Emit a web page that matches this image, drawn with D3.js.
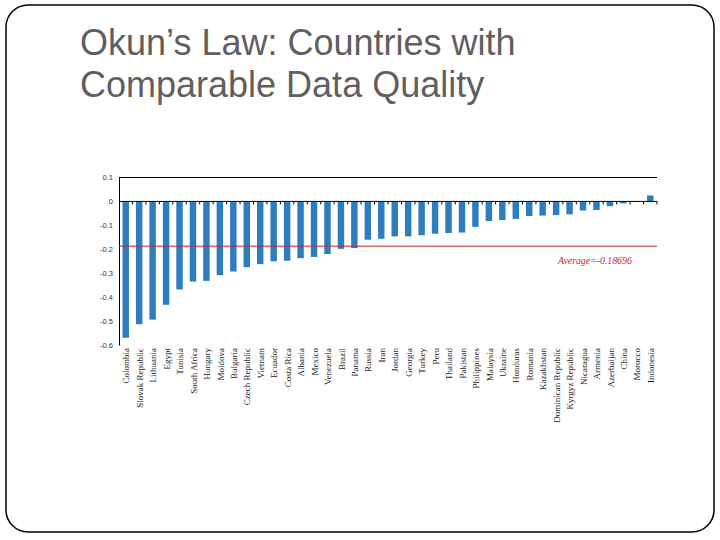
<!DOCTYPE html>
<html>
<head>
<meta charset="utf-8">
<script src="https://cdn.jsdelivr.net/npm/d3@7/dist/d3.min.js"></script>
<style>
  html, body { margin: 0; padding: 0; background: #fff; }
  svg { display: block; }
</style>
</head>
<body>
<svg id="chart" width="720" height="540"></svg>
<script>
const titleLines = ["Okun’s Law: Countries with", "Comparable Data Quality"];

const countries = [
  "Colombia", "Slovak Republic", "Lithuania", "Egypt", "Tunisia", "South Africa",
  "Hungary", "Moldova", "Bulgaria", "Czech Republic", "Vietnam", "Ecuador",
  "Costa Rica", "Albania", "Mexico", "Venezuela", "Brazil", "Panama", "Russia",
  "Iran", "Jordan", "Georgia", "Turkey", "Peru", "Thailand", "Pakistan",
  "Philippines", "Malaysia", "Ukraine", "Honduras", "Romania", "Kazakhstan",
  "Dominican Republic", "Kyrgyz Republic", "Nicaragua", "Armenia", "Azerbaijan",
  "China", "Morocco", "Indonesia"
];

const coefficients = [
  -0.570, -0.513, -0.494, -0.432, -0.368, -0.335,
  -0.332, -0.308, -0.293, -0.275, -0.262, -0.250,
  -0.248, -0.237, -0.232, -0.220, -0.198, -0.195, -0.160,
  -0.156, -0.146, -0.146, -0.141, -0.135, -0.132, -0.130,
  -0.106, -0.082, -0.078, -0.073, -0.061, -0.059,
  -0.057, -0.054, -0.038, -0.036, -0.020,
  -0.008, -0.002, 0.025
];

const yTicks = [0.1, 0, -0.1, -0.2, -0.3, -0.4, -0.5, -0.6];
const yTickLabels = ["0.1", "0", "-0.1", "-0.2", "-0.3", "-0.4", "-0.5", "-0.6"];

const averageValue = -0.18696;
const averageLabel = "Average=-0.18696";

const data = countries.map((c, i) => ({ country: c, value: coefficients[i] }));

const svg = d3.select("#chart");

// slide frame
svg.append("rect")
  .attr("x", 6).attr("y", 5)
  .attr("width", 708).attr("height", 527)
  .attr("rx", 22).attr("ry", 22)
  .attr("fill", "#fff")
  .attr("stroke", "#000")
  .attr("stroke-width", 1.5);

// title
svg.append("g").selectAll("text")
  .data(titleLines)
  .join("text")
  .attr("x", 80)
  .attr("y", (d, i) => 55 + i * 42)
  .attr("font-family", "Liberation Sans, Arial, sans-serif")
  .attr("font-size", 36)
  .attr("fill", "#5f5f5f")
  .text(d => d);

const plotLeft = 119, plotRight = 657, plotTop = 177.5, plotBottom = 345;

const x = d3.scaleBand()
  .domain(countries)
  .range([plotLeft, plotRight])
  .paddingInner(0.52)
  .paddingOuter(0.26);

const y = d3.scaleLinear()
  .domain([-0.6, 0.1])
  .range([plotBottom, plotTop]);

// bars
svg.append("g").selectAll("rect")
  .data(data)
  .join("rect")
  .attr("x", d => x(d.country))
  .attr("width", x.bandwidth())
  .attr("y", d => y(Math.max(0, d.value)))
  .attr("height", d => Math.abs(y(d.value) - y(0)))
  .attr("fill", "#2E7EBF");

// top border line at 0.1
svg.append("line")
  .attr("x1", plotLeft).attr("x2", plotRight)
  .attr("y1", y(0.1)).attr("y2", y(0.1))
  .attr("stroke", "#000").attr("stroke-width", 1);

// y axis
const yAxis = d3.axisLeft(y)
  .tickValues(yTicks)
  .tickFormat((d, i) => yTickLabels[i])
  .tickSize(0)
  .tickPadding(6);

const yg = svg.append("g")
  .attr("transform", `translate(${plotLeft},0)`)
  .call(yAxis);
yg.select(".domain").attr("stroke", "#000").attr("stroke-width", 1);
yg.selectAll("text")
  .attr("font-family", "Liberation Sans, Arial, sans-serif")
  .attr("font-size", 7.5)
  .attr("fill", "#333");

// zero line with ticks between categories
svg.append("line")
  .attr("x1", plotLeft).attr("x2", plotRight)
  .attr("y1", y(0)).attr("y2", y(0))
  .attr("stroke", "#000").attr("stroke-width", 1);

svg.append("g").selectAll("line")
  .data(countries)
  .join("line")
  .attr("x1", d => x(d) + x.bandwidth() / 2 + x.step() / 2)
  .attr("x2", d => x(d) + x.bandwidth() / 2 + x.step() / 2)
  .attr("y1", y(0))
  .attr("y2", y(0) + 3)
  .attr("stroke", "#000")
  .attr("stroke-width", 1);

// category labels
svg.append("g").selectAll("text")
  .data(countries)
  .join("text")
  .attr("transform", d => `translate(${x(d) + x.bandwidth() / 2 + 0.5},348) rotate(-90)`)
  .attr("text-anchor", "end")
  .attr("dy", "0.35em")
  .attr("font-family", "Liberation Serif, Times New Roman, serif")
  .attr("font-size", 9)
  .attr("fill", "#222")
  .text(d => d);

// average line
svg.append("line")
  .attr("x1", plotLeft).attr("x2", plotRight)
  .attr("y1", y(averageValue)).attr("y2", y(averageValue))
  .attr("stroke", "#C0282D").attr("stroke-width", 1);

svg.append("text")
  .attr("x", 558)
  .attr("y", 264)
  .attr("font-family", "Liberation Serif, Times New Roman, serif")
  .attr("font-style", "italic")
  .attr("font-size", 9.8)
  .attr("fill", "#C0282D")
  .text(averageLabel);
</script>
</body>
</html>
